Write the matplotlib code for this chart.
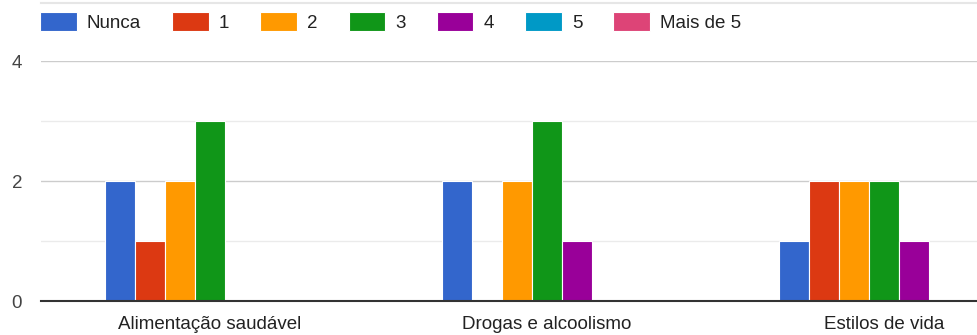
import numpy as np
import matplotlib
matplotlib.use("Agg")
import matplotlib.pyplot as plt
from matplotlib.lines import Line2D

plt.rcParams['font.family'] = ['Liberation Sans', 'DejaVu Sans']

categories = ["Alimentação saudável", "Drogas e alcoolismo", "Estilos de vida"]
series = ["Nunca", "1", "2", "3", "4", "5", "Mais de 5"]
values = [
    [2, 2, 1],  # Nunca
    [1, 0, 2],  # 1
    [2, 2, 2],  # 2
    [3, 3, 2],  # 3
    [0, 1, 1],  # 4
    [0, 0, 0],  # 5
    [0, 0, 0],  # Mais de 5
]
colors = ["#3366cc", "#dc3912", "#ff9900", "#109618", "#990099", "#0099c6", "#dd4477"]

W, H = 977, 335
fs = 13.5
fig = plt.figure(figsize=(W / 100, H / 100), dpi=100)
ax = fig.add_axes([41 / W, 34 / H, 1 - 41 / W, 240 / H])

x = np.arange(len(categories))
bw = 0.089
n = len(series)
for i, (name, vals) in enumerate(zip(series, values)):
    off = (i - (n - 1) / 2) * bw
    ax.bar(x + off, vals, width=bw, color=colors[i], edgecolor="white",
           linewidth=0.8, label=name, zorder=3)

ax.set_xlim(-0.5, 2.276)
ax.set_ylim(0, 4)
ax.set_yticks([0, 2, 4])
for y in [1, 3]:
    ax.axhline(y, color="#ebebeb", linewidth=1, zorder=1)
for y in [2, 4]:
    ax.axhline(y, color="#cccccc", linewidth=1, zorder=1)
ax.axhline(0, color="#333333", linewidth=1.5, zorder=4, clip_on=False)

for s in ax.spines.values():
    s.set_visible(False)
ax.set_xticks(x)
ax.set_xticklabels(categories)
ax.tick_params(axis="both", length=0, labelsize=fs, colors="#444444")
ax.tick_params(axis="x", pad=10.5, labelcolor="#222222")
ax.tick_params(axis="y", pad=13.5)

# top border line
fig.add_artist(Line2D([41 / W, 1], [1 - 2.5 / H, 1 - 2.5 / H], color="#e6e6e6", linewidth=1.5))

fig.legend(loc="center left", bbox_to_anchor=(40 / W, 1 - 22 / H), ncol=7,
           frameon=False, fontsize=fs, handlelength=1.95, handleheight=1.15,
           handletextpad=0.55, columnspacing=1.65, borderaxespad=0, borderpad=0,
           labelcolor="#222222")

fig.savefig("out.png", dpi=100)
